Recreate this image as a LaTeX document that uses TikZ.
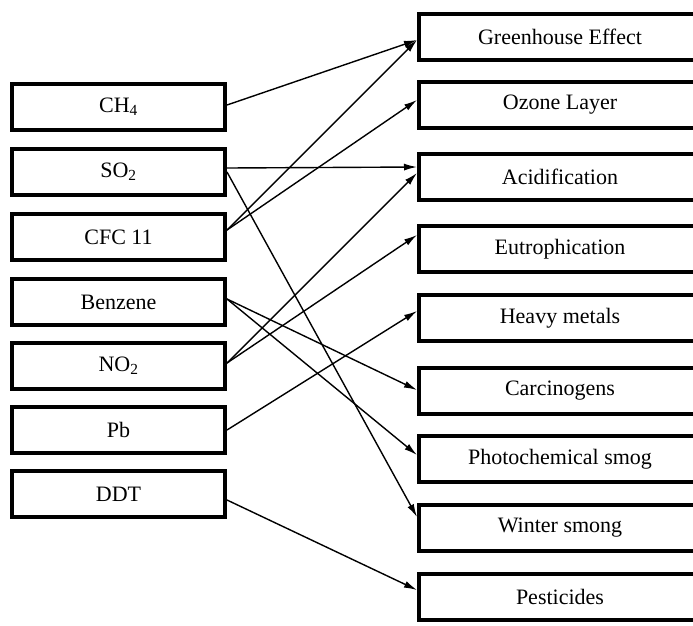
\documentclass[tikz,border=0pt]{standalone}
\usepackage{fontspec}
\setmainfont{Liberation Serif}
\usetikzlibrary{arrows.meta}
\begin{document}
\begin{tikzpicture}[x=1pt,y=-1pt,
  lbox/.style={draw,line width=4pt,minimum width=213pt,minimum height=46pt,inner sep=0pt,font=\fontsize{22}{26}\selectfont},
  rbox/.style={draw,line width=4pt,minimum width=282pt,minimum height=46pt,inner sep=0pt,font=\fontsize{22}{26}\selectfont},
  conn/.style={line width=1.4pt,-{Latex[length=13pt,width=7pt]}}]
\useasboundingbox (0,0) rectangle (693,625);
\clip (0,0) rectangle (693,625);
% left column
\node[lbox] (ch4) at (118.5,107) {CH\textsubscript{4}};
\node[lbox] (so2) at (118.5,172) {SO\textsubscript{2}};
\node[lbox] (cfc) at (118.5,237) {CFC 11};
\node[lbox] (benz) at (118.5,302) {Benzene};
\node[lbox] (no2) at (118.5,366) {NO\textsubscript{2}};
\node[lbox] (pb) at (118.5,430) {Pb};
\node[lbox] (ddt) at (118.5,494) {DDT};
% right column
\node[rbox] (gh) at (560,37) {Greenhouse Effect};
\node[rbox] (oz) at (560,105) {Ozone Layer};
\node[rbox] (ac) at (560,177) {Acidification};
\node[rbox] (eu) at (560,249) {Eutrophication};
\node[rbox] (hm) at (560,318) {Heavy metals};
\node[rbox] (ca) at (560,391) {Carcinogens};
\node[rbox] (ph) at (560,459) {Photochemical smog};
\node[rbox] (ws) at (560,528) {Winter smong};
\node[rbox] (pe) at (560,597) {Pesticides};
% connectors
\draw[conn] ([yshift=2pt]ch4.east) -- ([yshift=-3pt]gh.west);
\draw[conn] ([yshift=4pt]so2.east) -- ([yshift=10pt]ac.west);
\draw[conn] (so2.east) -- ([yshift=11pt]ws.west);
\draw[conn] ([yshift=7pt]cfc.east) -- ([yshift=-3pt]gh.west);
\draw[conn] ([yshift=7pt]cfc.east) -- ([yshift=5pt]oz.west);
\draw[conn] ([yshift=3pt]benz.east) -- ([yshift=1pt]ca.west);
\draw[conn] ([yshift=3pt]benz.east) -- ([yshift=4pt]ph.west);
\draw[conn] ([yshift=3pt]no2.east) -- ([yshift=4pt]ac.west);
\draw[conn] ([yshift=3pt]no2.east) -- ([yshift=14pt]eu.west);
\draw[conn] (pb.east) -- ([yshift=7pt]hm.west);
\draw[conn] ([yshift=-6pt]ddt.east) -- ([yshift=7pt]pe.west);
\end{tikzpicture}
\end{document}
